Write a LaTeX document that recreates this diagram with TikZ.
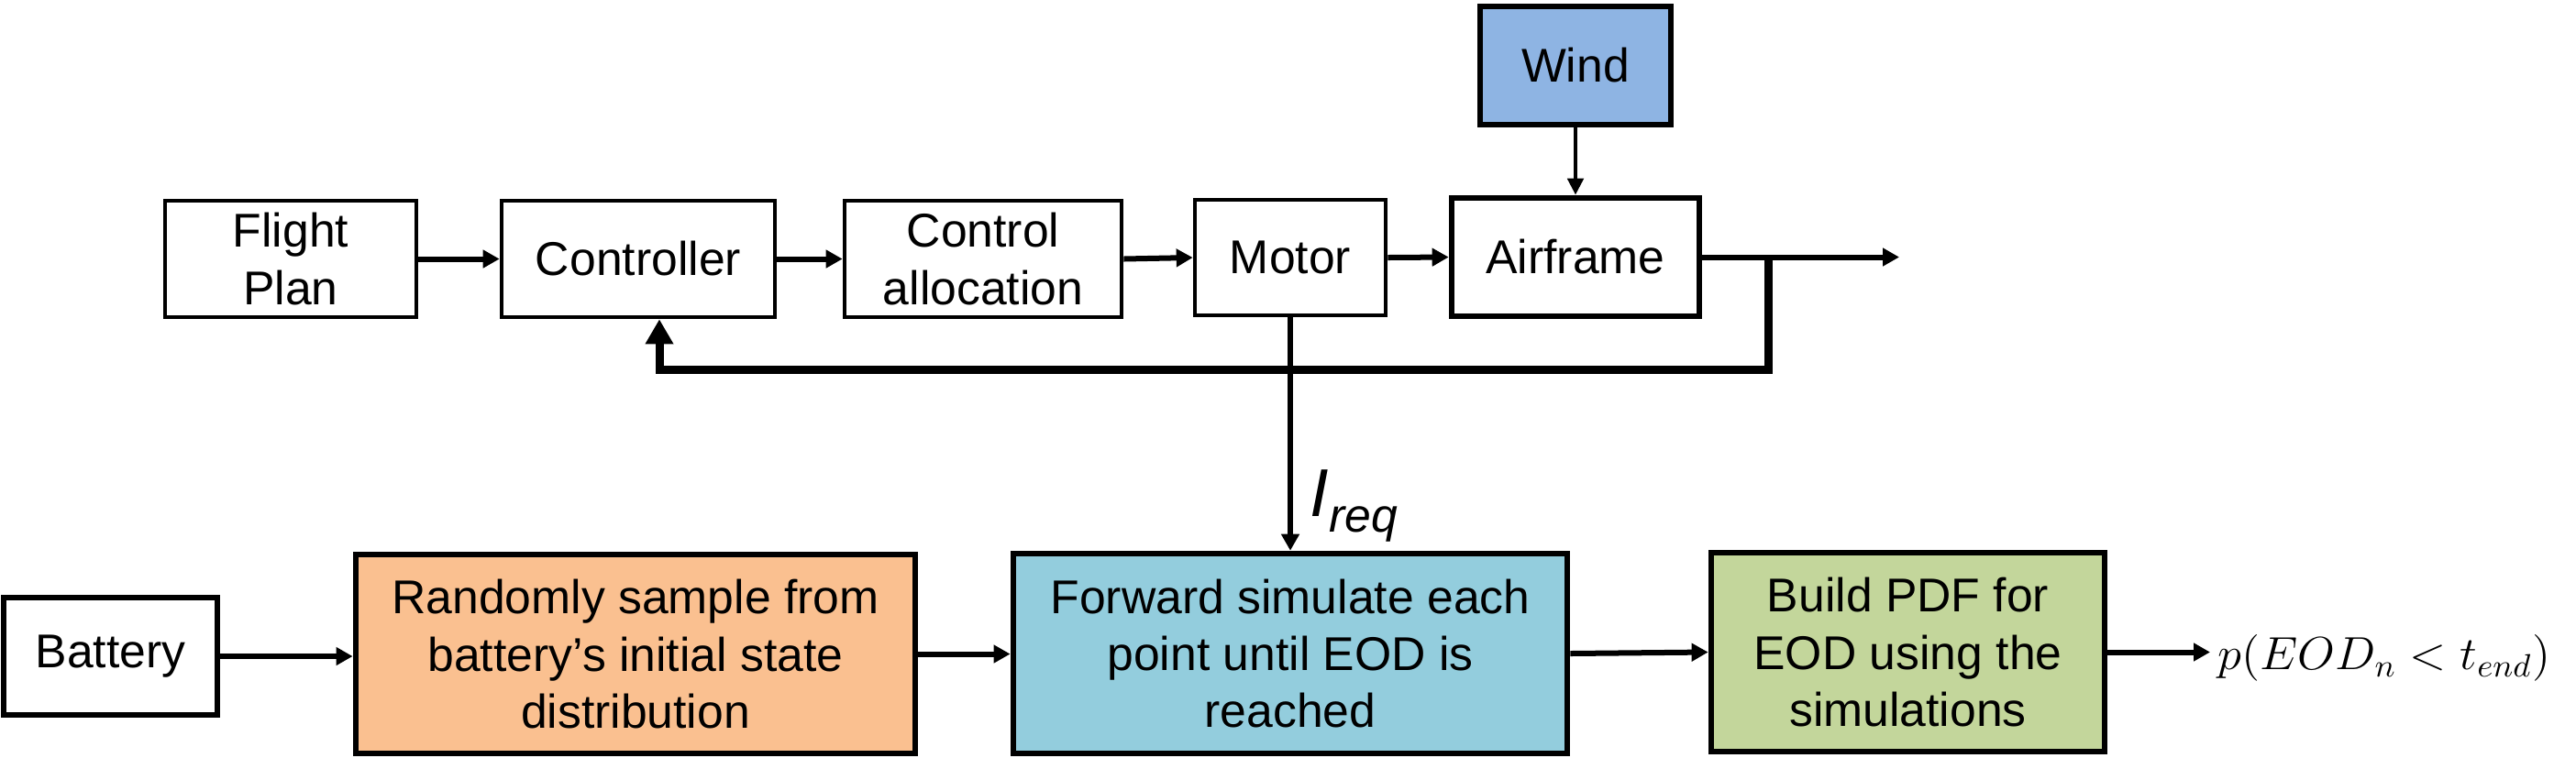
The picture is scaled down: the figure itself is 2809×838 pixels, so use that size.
\documentclass[tikz,border=0pt]{standalone}
\usepackage{fontspec}
\setmainfont{Liberation Sans}
\usetikzlibrary{arrows.meta,calc}
\definecolor{windblue}{HTML}{8EB4E3}
\definecolor{peach}{HTML}{FAC090}
\definecolor{simblue}{HTML}{93CDDD}
\definecolor{pdfgreen}{HTML}{C3D69B}
\begin{document}
\begin{tikzpicture}[x=0.01cm,y=-0.01cm,
  blk/.style={draw=black, line width=0.045cm, fill=white, align=center, inner sep=0pt,
              font=\fontsize{14.7}{17.64}\selectfont},
  thkblk/.style={blk, line width=0.065cm},
  conn/.style={line width=0.06cm, -{Triangle[length=0.18cm,width=0.19cm]}},
  thinconn/.style={line width=0.045cm, -{Triangle[length=0.18cm,width=0.17cm]}},
  fb/.style={line width=0.09cm, line join=miter, -{Triangle[length=0.27cm,width=0.29cm]}}
]
\useasboundingbox (0,0) rectangle (2809,838);
% top row
\node[blk, minimum width=2.74cm, minimum height=1.27cm] (fp) at (317,282.5) {Flight\\Plan};
\node[blk, minimum width=2.98cm, minimum height=1.27cm] (ctrl) at (696,282.5) {Controller};
\node[blk, minimum width=3.02cm, minimum height=1.27cm] (ca) at (1072,282.5) {Control\\allocation};
\node[blk, minimum width=2.08cm, minimum height=1.26cm] (mot) at (1407,281) {Motor};
\node[thkblk, minimum width=2.70cm, minimum height=1.29cm] (air) at (1718,280.5) {Airframe};
\node[thkblk, fill=windblue, minimum width=2.08cm, minimum height=1.29cm] (wind) at (1718,71.5) {Wind};
% bottom row
\node[thkblk, minimum width=2.33cm, minimum height=1.28cm] (bat) at (120.5,716) {Battery};
\node[thkblk, fill=peach, minimum width=6.10cm, minimum height=2.17cm] (rnd) at (693,713.5) {Randomly sample from\\battery’s initial state\\distribution};
\node[thkblk, fill=simblue, minimum width=6.04cm, minimum height=2.18cm] (fwd) at (1407,713) {Forward simulate each\\point until EOD is\\reached};
\node[thkblk, fill=pdfgreen, minimum width=4.29cm, minimum height=2.17cm] (pdf) at (2080.5,711.5) {Build PDF for\\EOD using the\\simulations};
\node[anchor=west, inner sep=0pt] (res) at (2418,718) {\fontsize{14.4}{17}\selectfont\scalebox{1.04}[1]{$p(EOD_n<t_{end})$}};
\node[anchor=base west, inner sep=0pt] (ireq) at (1428,563) {\fontsize{21}{25}\selectfont\itshape I\fontsize{14.7}{17}\selectfont\raisebox{-0.17cm}{req}};
% coordinates
\coordinate (br) at (1928,280.5);
\coordinate (out) at (2071,280.5);
\coordinate (fbc) at (719,403);
% connectors top
\draw[conn] (fp.east) -- (ctrl.west);
\draw[conn] (ctrl.east) -- (ca.west);
\draw[conn] (ca.east) -- (mot.west);
\draw[conn] (mot.east) -- (air.west);
\draw[thinconn] (wind.south) -- (air.north);
\draw[conn] (air.east) -- (out);
\draw[fb] (br) |- (fbc) -- (fbc |- ctrl.south);
\draw[conn] (mot.south) -- (fwd.north);
% connectors bottom
\draw[conn] (bat.east) -- (bat.east -| rnd.west);
\draw[conn] (rnd.east) -- (rnd.east -| fwd.west);
\draw[conn] (fwd.east) -- (pdf.west);
\draw[conn, shorten >=0.08cm] (pdf.east) -- (pdf.east -| res.west);
\end{tikzpicture}
\end{document}
